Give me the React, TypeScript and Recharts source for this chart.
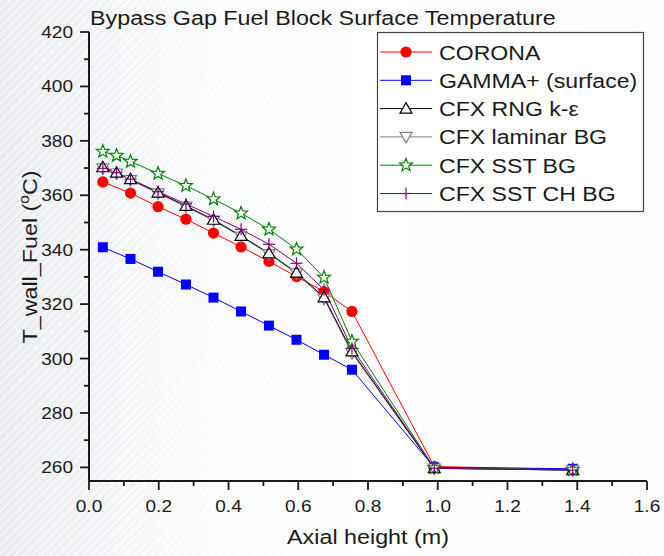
import React from 'react';
import { LineChart, Line, XAxis, YAxis } from 'recharts';

// ---------- data ----------
const xCorona = [0.0397, 0.119, 0.198, 0.278, 0.357, 0.436, 0.516, 0.595, 0.674, 0.754, 0.99, 1.387];
const xCfx = [0.0397, 0.079, 0.119, 0.198, 0.278, 0.357, 0.436, 0.516, 0.595, 0.674, 0.754, 0.99, 1.387];

const corona = [364.9, 360.8, 355.8, 351.2, 346.1, 341.0, 335.7, 330.1, 324.6, 317.3, 260.3, 259.3];
const gamma = [340.9, 336.6, 331.9, 327.2, 322.4, 317.3, 312.1, 306.9, 301.4, 295.9, 260.0, 259.5];
const cfxRng = [370.3, 368.3, 365.9, 361.0, 356.1, 351.0, 345.1, 338.7, 331.6, 322.5, 302.6, 259.7, 259.0];
const cfxLaminar = [369.9, 368.0, 365.6, 360.7, 355.8, 350.7, 344.8, 338.4, 331.3, 322.0, 302.0, 259.6, 259.0];
const cfxSst = [376.1, 374.6, 372.4, 368.0, 363.5, 358.6, 353.4, 347.5, 340.2, 329.8, 306.3, 259.8, 259.1];
const cfxSstCh = [369.9, 368.3, 365.9, 361.3, 356.8, 352.2, 347.5, 342.0, 335.0, 325.3, 303.8, 259.7, 259.0];

const xTicks = [0, 0.1, 0.2, 0.3, 0.4, 0.5, 0.6, 0.7, 0.8, 0.9, 1.0, 1.1, 1.2, 1.3, 1.4, 1.5, 1.6];
const yTicks = [260, 270, 280, 290, 300, 310, 320, 330, 340, 350, 360, 370, 380, 390, 400, 410, 420];

const seriesNames = ['CORONA', 'GAMMA+ (surface)', 'CFX RNG k-ε', 'CFX laminar BG', 'CFX SST BG', 'CFX SST CH BG'];

const toData = (xs: number[], ys: number[]) => xs.map((x, i) => ({ x, y: ys[i] }));

// ---------- styling ----------
const FONT = '"Liberation Sans", Arial, Helvetica, sans-serif';
const INK = '#1a1a1a';
const W = 664;
const H = 556;
const PLOT_LEFT = 89;
const PLOT_TOP = 32;
const PLOT_RIGHT = 647;
const PLOT_BOTTOM = 481;

type MP = { cx?: number; cy?: number };

const CircleM = ({ cx = 0, cy = 0 }: MP) => <circle cx={cx} cy={cy} r={5.6} fill="#ff0000" />;
const SquareM = ({ cx = 0, cy = 0 }: MP) => (
  <rect x={cx - 5} y={cy - 5} width={10} height={10} fill="#0000ff" />
);
const TriUpM = ({ cx = 0, cy = 0, color = '#000' }: MP & { color?: string }) => (
  <path
    d={`M${cx},${cy - 6} L${cx + 6},${cy + 4.5} L${cx - 6},${cy + 4.5} Z`}
    fill="#fff"
    stroke={color}
    strokeWidth={1.2}
  />
);
const TriDownM = ({ cx = 0, cy = 0, color = '#808080' }: MP & { color?: string }) => (
  <path
    d={`M${cx},${cy + 6} L${cx + 6},${cy - 4.5} L${cx - 6},${cy - 4.5} Z`}
    fill="#fff"
    stroke={color}
    strokeWidth={1.2}
  />
);
const starPath = (cx: number, cy: number, R: number, r: number) => {
  let d = '';
  for (let i = 0; i < 10; i++) {
    const rad = i % 2 === 0 ? R : r;
    const a = -Math.PI / 2 + (i * Math.PI) / 5;
    d += `${i === 0 ? 'M' : 'L'}${cx + rad * Math.cos(a)},${cy + rad * Math.sin(a)}`;
  }
  return d + 'Z';
};
const StarM = ({ cx = 0, cy = 0 }: MP) => (
  <path d={starPath(cx, cy, 6.8, 2.9)} fill="#fff" stroke="#008000" strokeWidth={1.2} />
);
const PlusM = ({ cx = 0, cy = 0 }: MP) => (
  <g stroke="#800080" strokeWidth={1.2}>
    <line x1={cx - 6} x2={cx + 6} y1={cy} y2={cy} />
    <line x1={cx} x2={cx} y1={cy - 6} y2={cy + 6} />
  </g>
);

const seriesStyles = [
  { color: '#ff0000', marker: CircleM },
  { color: '#0000ff', marker: SquareM },
  { color: '#000000', marker: TriUpM },
  { color: '#808080', marker: TriDownM },
  { color: '#008000', marker: StarM },
  { color: '#800080', marker: PlusM },
];

const makeDot = (key: string, M: any) => (p: any) =>
  <M key={`${key}-${p.index}`} cx={p.cx} cy={p.cy} />;

// ---------- ticks ----------
const XTick = (props: any) => {
  const { x, y, payload } = props;
  const v = payload.value as number;
  const major = Math.round(v * 10) % 2 === 0;
  return (
    <g>
      <line x1={x} x2={x} y1={y} y2={y + (major ? 9 : 5)} stroke={INK} strokeWidth={1.8} />
      {major && (
        <text
          transform={`translate(${x},${y + 31}) scale(1.12,1)`}
          textAnchor="middle"
          fontSize={17}
          fontFamily={FONT}
          fill={INK}
        >
          {v.toFixed(1)}
        </text>
      )}
    </g>
  );
};

const YTick = (props: any) => {
  const { x, y, payload } = props;
  const v = payload.value as number;
  const major = (v - 260) % 20 === 0;
  return (
    <g>
      <line x1={x - (major ? 9 : 5)} x2={x} y1={y} y2={y} stroke={INK} strokeWidth={1.8} />
      {major && (
        <text
          transform={`translate(${x - 16},${y + 6}) scale(1.12,1)`}
          textAnchor="end"
          fontSize={17}
          fontFamily={FONT}
          fill={INK}
        >
          {v}
        </text>
      )}
    </g>
  );
};

// ---------- overlay (title, axis titles, legend) ----------
const Overlay = () => {
  const lx = 377.5;
  const ly = 32.5;
  const rowY = (i: number) => 52 + i * 28.3;
  return (
    <svg
      width={W}
      height={H}
      style={{ position: 'absolute', left: 0, top: 0, pointerEvents: 'none' }}
    >
      <text
        transform={`translate(90,25) scale(1.11,1)`}
        fontSize={21}
        fontFamily={FONT}
        fill={INK}
      >
        Bypass Gap Fuel Block Surface Temperature
      </text>
      <text
        transform={`translate(${(PLOT_LEFT + PLOT_RIGHT) / 2},544) scale(1.11,1)`}
        textAnchor="middle"
        fontSize={21}
        fontFamily={FONT}
        fill={INK}
      >
        Axial height (m)
      </text>
      <text
        transform={`translate(36.5,257) rotate(-90) scale(1.11,1)`}
        textAnchor="middle"
        fontSize={21}
        fontFamily={FONT}
        fill={INK}
      >
        T_wall_Fuel (
        <tspan fontSize={14} dy={-8}>o</tspan>
        <tspan dy={8}>C)</tspan>
      </text>

      <rect x={lx} y={ly} width={266} height={179} fill="#fff" stroke="#444" strokeWidth={1.2} />
      {seriesNames.map((name, i) => {
        const s = seriesStyles[i];
        const M = s.marker as any;
        const y = rowY(i);
        return (
          <g key={name}>
            <line x1={380} x2={432} y1={y} y2={y} stroke={s.color} strokeWidth={1} />
            <M cx={406} cy={y} />
            <text
              transform={`translate(439,${y + 7.5}) scale(1.1,1)`}
              fontSize={21}
              fontFamily={FONT}
              fill={INK}
            >
              {name}
            </text>
          </g>
        );
      })}
    </svg>
  );
};

export default function App() {
  const datasets = [
    toData(xCorona, corona),
    toData(xCorona, gamma),
    toData(xCfx, cfxRng),
    toData(xCfx, cfxLaminar),
    toData(xCfx, cfxSst),
    toData(xCfx, cfxSstCh),
  ];
  // draw order: laminar beneath RNG
  const order = [0, 1, 3, 2, 4, 5];

  return (
    <div
      style={{
        position: 'absolute',
        left: 0,
        top: 0,
        width: W,
        height: H,
        background:
          'repeating-linear-gradient(135deg, rgba(255,255,255,0.45) 0px, rgba(255,255,255,0.45) 3px, rgba(255,255,255,0) 3px, rgba(255,255,255,0) 6px), linear-gradient(90deg, #e8eaef 0%, #f6f7f9 25%, #ffffff 55%, #fbfbfc 100%)',
      }}
    >
      <LineChart
        width={W}
        height={H}
        margin={{ top: PLOT_TOP, right: W - PLOT_RIGHT, bottom: 0, left: 0 }}
      >
        <XAxis
          dataKey="x"
          type="number"
          domain={[0, 1.6]}
          ticks={xTicks}
          interval={0}
          allowDataOverflow
          height={H - PLOT_BOTTOM}
          tickSize={0}
          tickMargin={0}
          tickLine={false}
          tick={<XTick />}
          axisLine={{ stroke: INK, strokeWidth: 2 }}
        />
        <XAxis
          xAxisId="top"
          orientation="top"
          type="number"
          domain={[0, 1.6]}
          height={0}
          tick={false}
          tickLine={false}
          axisLine={{ stroke: INK, strokeWidth: 2 }}
        />
        <YAxis
          type="number"
          domain={[255, 420]}
          ticks={yTicks}
          interval={0}
          allowDataOverflow
          width={PLOT_LEFT}
          tickSize={0}
          tickMargin={0}
          tickLine={false}
          tick={<YTick />}
          axisLine={{ stroke: INK, strokeWidth: 2 }}
        />
        <YAxis
          yAxisId="right"
          orientation="right"
          type="number"
          domain={[255, 420]}
          width={0}
          tick={false}
          tickLine={false}
          axisLine={{ stroke: INK, strokeWidth: 2 }}
        />
        {order.map((i) => (
          <Line
            key={seriesNames[i]}
            data={datasets[i]}
            dataKey="y"
            name={seriesNames[i]}
            type="linear"
            stroke={seriesStyles[i].color}
            strokeWidth={1}
            dot={makeDot(seriesNames[i], seriesStyles[i].marker)}
            activeDot={false}
            isAnimationActive={false}
          />
        ))}
      </LineChart>
      <Overlay />
    </div>
  );
}
